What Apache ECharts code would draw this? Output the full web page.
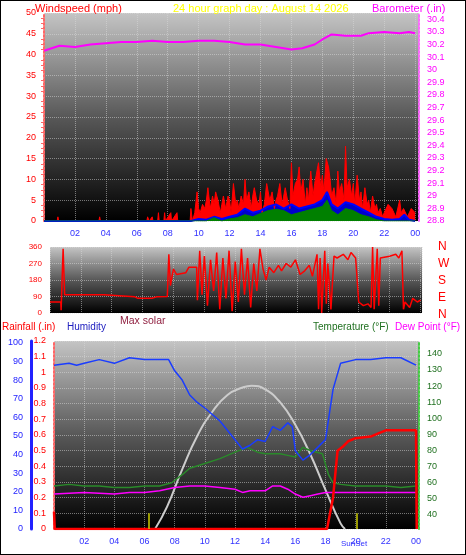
<!DOCTYPE html><html><head><meta charset="utf-8">
<script src="https://cdn.jsdelivr.net/npm/echarts@6/dist/echarts.min.js"></script>
<style>html,body{margin:0;padding:0;background:#fff}#c{width:466px;height:555px;box-sizing:border-box;border:1px solid #000}</style>
</head><body><div id="c"></div><script>
// ---- data ----
const gustEarly=[[0,0],[0.85,0],[0.9,1],[0.95,0],[3.55,0],[3.6,1],[3.65,0],[6.65,0],[6.7,1],[6.8,0],[7,1],[7.05,0],[7.35,0],[7.4,2],[7.45,0],[7.75,0],[7.8,2],[7.85,0],[8.2,2],[8.25,0],[8.6,2],[8.65,0],[9.45,0]];
const gustHours=[9.5,9.6,9.75,9.9,10,10.1,10.25,10.4,10.5,10.6,10.75,10.9,11,11.1,11.25,11.4,11.5,11.6,11.75,11.9,12,12.1,12.25,12.4,12.5,12.6,12.75,12.9,13,13.1,13.25,13.4,13.5,13.6,13.75,13.9,14,14.1,14.25,14.4,14.5,14.6,14.75,14.9,15,15.1,15.25,15.4,15.5,15.6,15.75,15.9,16,16.1,16.25,16.4,16.5,16.6,16.75,16.9,17,17.1,17.25,17.4,17.5,17.6,17.75,17.9,18,18.1,18.25,18.4,18.5,18.6,18.75,18.9,19,19.1,19.25,19.4,19.5,19.6,19.75,19.9,20,20.1,20.25,20.4,20.5,20.6,20.75,20.9,21,21.1,21.25,21.4,21.5,21.6,21.75,21.9,22,22.25,22.5,22.75,23,23.1,23.25,23.5,23.75,24];
const gustVals=[3,0,2,7,3,2,4,3,5,8,3,6,4,7,5,2,4,6,3,6,5,2,9,4,5,3,6,4,10,5,7,3,6,8,5,4,7,2,4,9,9,5,7,3,5,6,9,4,6,8,5,3,14,6,9,10,13,7,10,4,8,5,12,6,9,11,14,8,11,7,15,13,10,6,8,4,12,7,9,5,18,8,10,6,9,4,11,5,7,3,8,4,5,2,6,3,4,2,3,1,2,4,3,1,5,2,3,1,3,2];
const avgWind=[[0,0],[9.5,0],[10,0.5],[10.5,0.3],[11,1],[11.5,0.5],[12,1],[12.5,1.5],[13,3],[13.5,2],[14,2.5],[14.5,3.5],[15,4],[15.5,3],[16,4],[16.5,3],[17,3.5],[17.5,4],[18,5],[18.3,7],[18.6,4],[19,3],[19.5,4.5],[20,4],[20.5,3],[21,2],[21.5,1],[22,0.5],[22.5,0.3],[23,0.5],[23.3,1.5],[23.6,0.3],[24,0]];
const lowWind=[[0,0],[9.5,0],[10.5,0],[11,0.8],[11.5,0],[12,0.5],[12.5,0.8],[13,1.5],[13.5,1],[14,1.8],[14.5,2.5],[15,2.8],[15.5,2.5],[16,1.5],[16.5,2],[17,2.5],[17.5,3],[18,3.5],[18.3,5],[18.6,2.5],[19,1.5],[19.5,3],[20,2.5],[20.5,1.5],[21,1],[21.5,0.3],[22,0],[24,0]];
const baro=[[0,30.15],[0.5,30.17],[1,30.19],[2,30.18],[3,30.2],[4,30.21],[5,30.22],[6,30.22],[7,30.23],[8,30.22],[9,30.22],[10,30.23],[11,30.23],[12,30.22],[13,30.2],[14,30.2],[15,30.18],[16,30.16],[16.7,30.17],[17.5,30.2],[18,30.24],[18.6,30.28],[19.5,30.27],[20.5,30.27],[21,30.29],[22,30.3],[23,30.29],[23.6,30.3],[24,30.29]];
const windDir=[[0,60],[0.7,60],[0.72,15],[0.85,350],[0.95,100],[3.5,100],[3.6,90],[5.5,88],[5.7,80],[6.6,80],[6.9,88],[7.6,90],[7.7,320],[7.8,150],[8,240],[8.2,210],[8.8,220],[9,250],[9.5,250],[9.55,70],[9.7,340],[9.85,100],[10,310],[10.2,40],[10.4,290],[10.6,120],[10.8,330],[11,20],[11.2,300],[11.4,80],[11.6,340],[11.8,10],[12,280],[12.2,60],[12.4,350],[12.6,100],[12.8,300],[13,30],[13.2,270],[13.4,120],[13.6,350],[13.8,240],[14,180],[14.2,250],[14.5,220],[14.8,260],[15,230],[15.3,270],[15.6,250],[15.9,290],[16.2,210],[16.5,230],[16.8,260],[17,200],[17.3,320],[17.4,20],[17.5,300],[17.6,0],[17.8,340],[17.9,50],[18,270],[18.2,20],[18.4,310],[18.6,300],[19,320],[19.3,290],[19.5,330],[19.8,300],[20,60],[20.3,40],[20.6,50],[20.8,30],[20.9,360],[21,20],[21.2,350],[21.3,40],[21.4,300],[22,310],[22.4,320],[22.6,300],[22.8,340],[22.9,20],[23,60],[23.3,30],[23.5,80],[23.8,60],[24,70]];
const humidity=[[0,88],[1,89],[1.5,88],[2,89],[3,91],[4,89],[5,92],[6,91],[7,91],[7.6,91],[8,85],[8.5,80],[9,72],[9.5,68],[10,65],[11,58],[12,48],[12.5,43],[13,45],[13.5,48],[14,47],[14.5,55],[15,53],[15.5,57],[15.8,55],[16,42],[16.5,37],[17,40],[17.5,44],[18,48],[18.5,75],[19,89],[20,91],[21,91],[22,92],[23,92],[24,88]];
const temperature=[[0,58],[1,59],[2,58],[3,58],[4,57],[5,57],[6,58],[7,58],[7.8,60],[8.5,65],[9,69],[10,72],[11,75],[12,79],[12.8,82],[13.5,79],[14,78],[15,78],[15.5,77],[16,76],[16.5,82],[17,80],[17.8,78],[18.2,65],[18.5,60],[19,59],[20,58],[21,58],[22,58],[23,57],[24,58]];
const dewPoint=[[0,53],[2,54],[4,53],[5,54],[6,54],[7,55],[8,57],[9,58],[10,58],[11,57],[12,56],[12.5,54],[13,55],[14,55],[14.5,58],[15,58],[15.5,56],[16,53],[16.5,51],[17,52],[17.5,53],[18,54],[19,54],[20,54],[22,54],[24,54]];
const rainfall=[[0,0.11],[0.05,0],[18.1,0],[18.5,0.2],[18.8,0.5],[19.2,0.53],[19.5,0.56],[20,0.58],[21,0.59],[21.5,0.61],[22,0.63],[24,0.63],[24.05,0]];
const solar=[[6.7,0],[7.5,12],[8.5,32],[9.5,50],[10.5,63],[11.5,72],[12.5,76],[13.1,77],[14,75],[15,68],[16,56],[17,40],[18,21],[19,3],[19.3,0]];
const sunTimes=[6.3,20.1];
const humTicks=[0,10,20,30,40,50,60,70,80,90,100];
const tempTicks=[40,50,60,70,80,90,100,110,120,130,140];
// ---- chart ----
const F='Liberation Sans, Arial, sans-serif';
const bg={type:'linear',x:0,y:0,x2:0,y2:1,colorStops:[{offset:0,color:'#c4c4c4'},{offset:0.5,color:'#585858'},{offset:1,color:'#000'}]};
const gl={show:true,lineStyle:{color:'rgba(220,220,220,0.5)',type:'dotted'}};
const hh=v=>String(Math.round(v)%24).padStart(2,'0');
function xax(i,max,show){return {type:'value',gridIndex:i,min:0,max:max,interval:2,splitLine:gl,axisLine:{show:false},axisTick:{show:false},
 axisLabel:{show:show,color:'#3030ff',fontSize:9,fontFamily:F,formatter:hh,showMinLabel:false}};}
const T=(text,left,top,color,size)=>({text,left,top,padding:0,textStyle:{color,fontSize:size,fontWeight:'normal',fontFamily:F}});
const ch=echarts.init(document.getElementById('c'));
ch.setOption({animation:false,backgroundColor:'#fff',
title:[T('Windspeed (mph)',34,2,'#f00',11),T('24 hour graph day : August 14 2026',172,2,'#ffff00',11),T('Barometer (.in)',371,2,'#f0f',11),
T('Max solar',119,315,'#902040',10.5),T('Rainfall (.in)',1,321,'#f00',10),T('Humidity',66,321,'#2020c0',10),
T('Temperature (°F)',312,321,'#207020',10),T('Dew Point (°F)',394,321,'#f0f',10),
{text:'N\nW\nS\nE\nN',left:437,top:237,padding:0,textStyle:{color:'#f00',fontSize:12,lineHeight:17,fontWeight:'normal',fontFamily:F}},
T('SunSet',340,539,'#3030ff',8)],
grid:[{left:43,top:12,width:375,height:208,show:true,backgroundColor:bg,borderWidth:0},
{left:49,top:246,width:372,height:66,show:true,backgroundColor:bg,borderWidth:0},
{left:53,top:340,width:365,height:188,show:true,backgroundColor:bg,borderWidth:0}],
xAxis:[xax(0,24.25,true),xax(1,24.1,false),xax(2,24.2,true)],
yAxis:[
{gridIndex:0,min:0,max:50,interval:5,splitLine:gl,axisLine:{show:true,lineStyle:{color:'#f66',type:'dotted',width:2}},axisTick:{show:false},minorTick:{show:true,splitNumber:4,lineStyle:{color:'#f66'}},axisLabel:{color:'#f00',fontSize:9,fontFamily:F}},
{gridIndex:0,position:'right',min:28.8,max:30.45,interval:0.1,splitLine:{show:false},axisLine:{show:true,lineStyle:{color:'#f6f',type:'dotted',width:2}},axisTick:{show:false},axisLabel:{color:'#f0f',fontSize:9,fontFamily:F,showMaxLabel:false,formatter:v=>String(+v.toFixed(1))}},
{gridIndex:1,min:0,max:360,interval:90,splitLine:gl,axisLine:{show:false},axisTick:{show:false},axisLabel:{color:'#f00',fontSize:8,fontFamily:F}},
{gridIndex:2,min:0,max:1.2,interval:0.1,splitLine:gl,axisLine:{show:true,lineStyle:{color:'#f66',type:'dotted',width:2}},axisTick:{show:false},axisLabel:{color:'#f00',fontSize:9,fontFamily:F,formatter:v=>String(+v.toFixed(1))}},
{gridIndex:2,position:'left',offset:23,min:0,max:101,splitLine:{show:false},axisLine:{show:true,lineStyle:{color:'#22f',width:3}},axisTick:{show:false},axisLabel:{color:'#22f',fontSize:9,fontFamily:F,customValues:humTicks}},
{gridIndex:2,position:'right',min:31.3,max:148,splitLine:{show:false},axisLine:{show:true,lineStyle:{color:'#4c4',type:'dotted',width:2}},axisTick:{show:false},axisLabel:{color:'#207020',fontSize:9,fontFamily:F,customValues:tempTicks}}],
series:[
{type:'line',xAxisIndex:0,yAxisIndex:0,data:gustEarly.concat(gustHours.map((h,i)=>[h,gustVals[i]])),symbol:'none',lineStyle:{color:'#f00',width:1},areaStyle:{color:'#f00',opacity:1}},
{type:'line',xAxisIndex:0,yAxisIndex:0,data:avgWind,symbol:'none',lineStyle:{color:'#0000ff',width:2},areaStyle:{color:'#0000cc',opacity:1}},
{type:'line',xAxisIndex:0,yAxisIndex:0,data:lowWind,symbol:'none',lineStyle:{color:'#008000',width:1},areaStyle:{color:'#008000',opacity:1}},
{type:'line',xAxisIndex:0,yAxisIndex:1,data:baro,symbol:'none',lineStyle:{color:'#f0f',width:2}},
{type:'line',xAxisIndex:1,yAxisIndex:2,data:windDir,symbol:'none',lineStyle:{color:'#f00',width:1.5}},
{type:'line',xAxisIndex:2,yAxisIndex:4,data:solar,symbol:'none',smooth:true,lineStyle:{color:'#ccc',width:2}},
{type:'line',xAxisIndex:2,yAxisIndex:5,data:temperature,symbol:'none',lineStyle:{color:'#2a8a2a',width:1.5}},
{type:'line',xAxisIndex:2,yAxisIndex:5,data:dewPoint,symbol:'none',lineStyle:{color:'#f0f',width:1.5}},
{type:'line',xAxisIndex:2,yAxisIndex:4,data:humidity,symbol:'none',lineStyle:{color:'#1a3cff',width:1.5}},
{type:'line',xAxisIndex:2,yAxisIndex:3,data:rainfall,symbol:'none',lineStyle:{color:'#f00',width:2.5}},
{type:'line',xAxisIndex:2,yAxisIndex:3,data:[],symbol:'none',markLine:{symbol:'none',silent:true,label:{show:false},lineStyle:{color:'#cc0',width:1.5,type:'solid'},
 data:sunTimes.map(t=>[{coord:[t,0]},{coord:[t,0.1]}])}}
]});
</script></body></html>
